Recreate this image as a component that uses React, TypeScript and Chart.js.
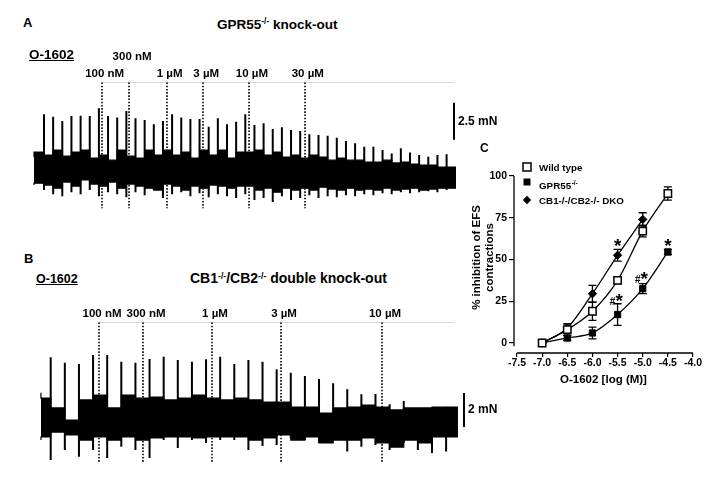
import React, { useEffect, useRef } from 'react';
import { Chart, registerables } from 'chart.js';

Chart.register(...registerables);

const FAMILY = 'Liberation Sans';
const CSS_FONT = '"Liberation Sans", Arial, Helvetica, sans-serif';
const font = (size: number) => `bold ${size}px "Liberation Sans", Arial, sans-serif`;

// ---------------- Panel A : GPR55-/- knock-out trace (mN, x = stimulus number) ----------------
const A_SPIKE_TOP = [
  3.76, 3.6, 3.31, 3.65, 3.67, 3.65, 4.17, 3.65, 3.54, 3.99, 3.49, 3.38, 3.09, 3.31, 3.76, 3.54,
  3.44, 3.44, 2.92, 3.49, 3.09, 3.26, 3.76, 3.04, 3.16, 2.77, 2.89, 2.71, 2.64, 2.41, 2.36, 2.32,
  2.18, 1.96, 1.81, 1.57, 1.57, 1.35, 1.12, 1.47, 1.19, 1.01, 0.9, 1.01, 1.06,
];
const A_SPIKE_LOW = [
  -1.35, -1.63, -1.76, -1.49, -1.63, -1.35, -1.76, -1.49, -1.63, -1.83, -1.49, -1.69, -1.35, -1.89,
  -1.63, -1.49, -1.76, -1.56, -1.83, -1.63, -1.76, -1.89, -1.63, -2.02, -1.89, -2.16, -1.76, -2.02,
  -1.89, -1.69, -1.89, -1.76, -1.83, -1.69, -1.76, -1.63, -1.69, -1.56, -1.63, -1.49, -1.56, -1.49,
  -1.42, -1.49, -1.35,
];
// first value: before the first stimulus, then one value after each stimulus
const A_BAND_HIGH = [
  0.88, 1.22, 1.01, 1.35, 0.94, 1.22, 1.35, 0.81, 1.01, 0.67, 1.35, 0.94, 0.81, 1.35, 1.01, 1.35,
  1.01, 1.22, 0.81, 1.35, 1.01, 1.35, 0.81, 1.22, 1.22, 1.35, 1.01, 1.22, 0.88, 1.01, 0.81, 1.01,
  0.88, 0.67, 0.81, 0.67, 0.67, 0.54, 0.54, 0.67, 0.48, 0.54, 0.41, 0.34, 0.34, 0.2,
];
const A_BAND_LOW = [
  -1.01, -0.88, -1.01, -1.22, -0.81, -1.08, -0.67, -0.94, -1.08, -0.81, -1.22, -0.94, -1.08, -1.22,
  -1.35, -0.94, -1.08, -1.35, -1.08, -1.22, -1.01, -1.08, -1.22, -1.08, -1.08, -1.35, -1.22, -1.49,
  -1.22, -1.35, -1.22, -1.35, -1.15, -1.28, -1.35, -1.22, -1.35, -1.28, -1.35, -1.22, -1.35, -1.28,
  -1.22, -1.35, -1.28, -1.22,
];
const A_TRACE_START = -1.09;
const A_TRACE_END = 45.03;
const A_DOSE_AT = [6.3, 9.3, 13.4, 17.4, 22.4, 28.5];
const A_DOSE_LABELS = ['100 nM', '300 nM', '1 \u00B5M', '3 \u00B5M', '10 \u00B5M', '30 \u00B5M'];
const A_DOSE_ROW = [0, 1, 0, 0, 0, 0];

// ---------------- Panel B : CB1-/-/CB2-/- double knock-out trace ----------------
const B_SPIKE_TOP = [
  3.69, 3.37, 3.29, 3.82, 3.82, 3.43, 3.37, 3.59, 3.72, 3.53, 3.43, 3.57, 3.72, 3.29, 3.53, 3.43,
  2.98, 2.78, 2.59, 2.41, 2.16, 1.81, 1.51, 1.53, 0.92, 1.12, 0.71, 0.72, 0.78,
];
const B_SPIKE_LOW = [
  -2.35, -1.76, -2.16, -1.76, -2.24, -1.57, -1.76, -2.24, -1.18, -1.65, -1.18, -1.35, -1.18, -1.18,
  -1.76, -1.53, -1.47, -1.06, -1.18, -1.35, -1.18, -1.86, -1.57, -1.47, -1.76, -1.35, -1.76, -1.94,
  -1.86,
];
const B_BAND_HIGH = [
  1.61, 1.29, 0.71, 0.0, 1.18, 1.47, 0.71, 1.47, 1.29, 1.35, 1.18, 1.29, 1.47, 1.29, 1.18, 1.29,
  1.18, 1.06, 1.06, 0.76, 0.76, 0.41, 0.71, 0.76, 0.88, 0.76, 0.59, 0.71, 0.71, 0.76,
];
const B_BAND_LOW = [
  -1.18, -1.0, -0.71, -0.88, -1.18, -1.0, -1.18, -1.0, -1.18, -1.06, -1.0, -1.0, -1.06, -1.0, -1.0,
  -1.0, -1.18, -1.06, -0.88, -1.18, -1.0, -1.35, -1.18, -1.18, -1.06, -1.35, -1.59, -1.18, -1.35,
  -1.0,
];
const B_TRACE_START = -0.69;
const B_TRACE_END = 28.84;
const B_DOSE_AT = [3.42, 6.54, 11.42, 16.31, 23.46];
const B_DOSE_LABELS = ['100 nM', '300 nM', '1 \u00B5M', '3 \u00B5M', '10 \u00B5M'];
const B_DOSE_ROW = [0, 0, 0, 0, 0];

// ---------------- Panel C : concentration-response ----------------
const C_LOG_DOSE = [-7.0, -6.5, -6.0, -5.5, -5.0, -4.5];
const WT_MEAN = [0, 8, 19, 37.5, 67, 89.5];
const WT_SEM = [0, 3.5, 5.5, 2, 3.5, 4];
const GPR_MEAN = [0, 3, 6, 17, 32.5, 54.5];
const GPR_SEM = [0, 1.5, 3.5, 6.5, 3, 1.5];
const DKO_MEAN = [0, 9, 29.5, 52.5, 74];
const DKO_SEM = [0, 2.5, 5, 3.5, 4];
const C_X_TICKS = [-7.5, -7.0, -6.5, -6.0, -5.5, -5.0, -4.5, -4.0];
const C_Y_TICKS = [0, 25, 50, 75, 100];
const C_MARKS = [
  { x: -5.5, y: 61, text: '*' },
  { x: -4.5, y: 61, text: '*' },
  { x: -5.0, y: 38, text: '#*' },
  { x: -5.5, y: 25, text: '#*' },
];
const C_LEGEND = [
  { text: 'Wild type', sup: '' },
  { text: 'GPR55', sup: '-/-' },
  { text: 'CB1-/-/CB2-/- DKO', sup: '' },
];
const C_Y_TITLE = ['% inhibition of EFS', 'contractions'];
const C_X_TITLE = 'O-1602 [log (M)]';

type TraceCfg = {
  left: number; top: number; width: number; height: number;
  xMin: number; xMax: number; yMin: number; yMax: number;
  start: number; end: number;
  spikeTop: number[]; spikeLow: number[]; bandHigh: number[]; bandLow: number[];
  doseAt: number[]; doseLabels: string[]; doseRow: number[];
  dotTop: number; dotBottom: number; greyEnd: number;
  bar: { x: number; from: number; len: number; label: string };
};

function makeTraceDecor(cfg: TraceCfg) {
  return {
    id: 'traceDecor',
    afterDatasetsDraw(chart: any) {
      const { ctx } = chart;
      const xs = chart.scales.x;
      const ys = chart.scales.y;
      const yTop = Math.round(ys.getPixelForValue(cfg.dotTop)) + 0.5;
      const yBot = ys.getPixelForValue(cfg.dotBottom);
      ctx.save();
      ctx.strokeStyle = '#d6d6d6';
      ctx.lineWidth = 1;
      ctx.beginPath();
      ctx.moveTo(xs.getPixelForValue(cfg.doseAt[0]), yTop);
      ctx.lineTo(xs.getPixelForValue(cfg.greyEnd), yTop);
      ctx.stroke();
      ctx.strokeStyle = '#000';
      ctx.lineWidth = 1.6;
      ctx.setLineDash([1.6, 1.6]);
      cfg.doseAt.forEach((d) => {
        const x = Math.round(xs.getPixelForValue(d));
        ctx.beginPath();
        ctx.moveTo(x, yTop);
        ctx.lineTo(x, yBot);
        ctx.stroke();
      });
      ctx.setLineDash([]);
      ctx.fillStyle = '#000';
      ctx.font = font(11.5);
      ctx.textAlign = 'center';
      ctx.textBaseline = 'alphabetic';
      cfg.doseAt.forEach((d, i) => {
        const x = xs.getPixelForValue(d);
        ctx.fillText(cfg.doseLabels[i], x + 3, yTop - 6 - cfg.doseRow[i] * 17);
      });
      const bx = Math.round(xs.getPixelForValue(cfg.bar.x));
      const b0 = ys.getPixelForValue(cfg.bar.from);
      const b1 = ys.getPixelForValue(cfg.bar.from + cfg.bar.len);
      ctx.lineWidth = 2;
      ctx.beginPath();
      ctx.moveTo(bx, b0);
      ctx.lineTo(bx, b1);
      ctx.stroke();
      ctx.textAlign = 'left';
      ctx.textBaseline = 'middle';
      ctx.font = font(12);
      ctx.fillText(cfg.bar.label, bx + 4, (b0 + b1) / 2);
      ctx.restore();
    },
  };
}

function TraceChart({ cfg }: { cfg: TraceCfg }) {
  const ref = useRef<HTMLCanvasElement>(null);
  useEffect(() => {
    const band = (vals: number[]) => {
      const pts = vals.map((v, i) => ({ x: i === 0 ? cfg.start : i - 1, y: v }));
      pts.push({ x: cfg.end, y: vals[vals.length - 1] });
      return pts;
    };
    const spikes: any[] = [];
    cfg.spikeTop.forEach((t, i) => {
      spikes.push({ x: i, y: cfg.spikeLow[i] }, { x: i, y: t }, { x: i, y: null });
    });
    const chart = new Chart(ref.current as HTMLCanvasElement, {
      type: 'line',
      data: {
        datasets: [
          {
            data: band(cfg.bandHigh), borderColor: '#000', borderWidth: 1.2,
            pointRadius: 0, stepped: 'after', fill: false,
          },
          {
            data: band(cfg.bandLow), borderColor: '#000', borderWidth: 1.2,
            pointRadius: 0, stepped: 'after', fill: '-1', backgroundColor: '#000',
          },
          {
            data: spikes, borderColor: '#000', borderWidth: 2, pointRadius: 0, spanGaps: false,
            fill: false, borderCapStyle: 'butt',
          },
        ] as any,
      },
      options: {
        responsive: false, animation: false, devicePixelRatio: 1, events: [],
        layout: { padding: 0 },
        plugins: { legend: { display: false }, tooltip: { enabled: false } },
        scales: {
          x: { type: 'linear', min: cfg.xMin, max: cfg.xMax, display: false, offset: false },
          y: { type: 'linear', min: cfg.yMin, max: cfg.yMax, display: false },
        },
      } as any,
      plugins: [makeTraceDecor(cfg)],
    });
    return () => chart.destroy();
  }, []);
  return (
    <canvas
      ref={ref}
      width={cfg.width}
      height={cfg.height}
      style={{ position: 'absolute', left: cfg.left, top: cfg.top, width: cfg.width, height: cfg.height, display: 'block' }}
    />
  );
}

const C_SERIES = [
  { mean: WT_MEAN, sem: WT_SEM },
  { mean: GPR_MEAN, sem: GPR_SEM },
  { mean: DKO_MEAN, sem: DKO_SEM },
];

const STAR_SIZE = 19;
function drawStar(ctx: any, x: number, y: number) {
  ctx.font = font(STAR_SIZE);
  ctx.textAlign = 'center';
  ctx.textBaseline = 'alphabetic';
  ctx.fillText('*', x, y + 0.57 * STAR_SIZE);
}
function drawHash(ctx: any, x: number, y: number) {
  ctx.font = font(10);
  ctx.textAlign = 'center';
  ctx.textBaseline = 'alphabetic';
  ctx.fillText('#', x, y + 0.35 * 10);
}

const cDecor = {
  id: 'cDecor',
  beforeDatasetsDraw(chart: any) {
    const { ctx } = chart;
    const xs = chart.scales.x;
    const ys = chart.scales.y;
    ctx.save();
    ctx.strokeStyle = '#000';
    ctx.lineWidth = 1.3;
    C_SERIES.forEach((s) => {
      s.mean.forEach((m, i) => {
        const e = s.sem[i];
        if (!e) return;
        const x = xs.getPixelForValue(C_LOG_DOSE[i]);
        const y0 = ys.getPixelForValue(m - e);
        const y1 = ys.getPixelForValue(m + e);
        ctx.beginPath();
        ctx.moveTo(x, y0); ctx.lineTo(x, y1);
        ctx.moveTo(x - 4, y0); ctx.lineTo(x + 4, y0);
        ctx.moveTo(x - 4, y1); ctx.lineTo(x + 4, y1);
        ctx.stroke();
      });
    });
    ctx.restore();
  },
  afterDatasetsDraw(chart: any) {
    const { ctx } = chart;
    const xs = chart.scales.x;
    const ys = chart.scales.y;
    ctx.save();
    ctx.fillStyle = '#000';
    C_MARKS.forEach((mk) => {
      const x = xs.getPixelForValue(mk.x);
      const y = ys.getPixelForValue(mk.y);
      if (mk.text === '*') drawStar(ctx, x, y);
      else {
        drawHash(ctx, x - 5, y);
        drawStar(ctx, x + 1.5, y - 5.5);
      }
    });
    ctx.restore();
  },
  afterDraw(chart: any) {
    const { ctx, chartArea } = chart;
    const xs = chart.scales.x;
    const ys = chart.scales.y;
    ctx.save();
    ctx.strokeStyle = '#000';
    ctx.lineWidth = 1.3;
    ctx.beginPath();
    ctx.moveTo(chartArea.left, ys.getPixelForValue(100));
    ctx.lineTo(chartArea.left, ys.getPixelForValue(-2));
    ctx.moveTo(xs.getPixelForValue(C_X_TICKS[0]), chartArea.bottom);
    ctx.lineTo(xs.getPixelForValue(C_X_TICKS[C_X_TICKS.length - 1]), chartArea.bottom);
    ctx.stroke();
    const yc = (ys.getPixelForValue(100) + ys.getPixelForValue(0)) / 2 - 2;
    ctx.fillStyle = '#000';
    ctx.font = font(11.5);
    ctx.textAlign = 'center';
    ctx.textBaseline = 'middle';
    C_Y_TITLE.forEach((t, i) => {
      ctx.save();
      ctx.translate(chartArea.left - 37.5 + i * 13, yc);
      ctx.rotate(-Math.PI / 2);
      ctx.fillText(t, 0, 0);
      ctx.restore();
    });
    const mx = chartArea.left + 13;
    const tx = chartArea.left + 25;
    const top = ys.getPixelForValue(100);
    const markerY = [top - 9, top + 6, top + 24];
    const textY = [top - 5.5, top + 13, top + 28];
    ctx.lineWidth = 1.5;
    ctx.strokeStyle = '#000';
    ctx.fillStyle = '#fff';
    ctx.fillRect(mx - 4, markerY[0] - 4, 8, 8);
    ctx.strokeRect(mx - 4, markerY[0] - 4, 8, 8);
    ctx.fillStyle = '#000';
    ctx.fillRect(mx - 3.5, markerY[1] - 3.5, 7, 7);
    ctx.beginPath();
    ctx.moveTo(mx, markerY[2] - 4.2);
    ctx.lineTo(mx + 4.2, markerY[2]);
    ctx.lineTo(mx, markerY[2] + 4.2);
    ctx.lineTo(mx - 4.2, markerY[2]);
    ctx.closePath();
    ctx.fill();
    ctx.textAlign = 'left';
    ctx.textBaseline = 'alphabetic';
    C_LEGEND.forEach((item, i) => {
      ctx.font = font(9.8);
      ctx.fillText(item.text, tx, textY[i]);
      if (item.sup) {
        const w = ctx.measureText(item.text).width;
        ctx.font = font(6.5);
        ctx.fillText(item.sup, tx + w + 0.5, textY[i] - 4.5);
      }
    });
    ctx.restore();
  },
};

function DoseResponseChart() {
  const ref = useRef<HTMLCanvasElement>(null);
  useEffect(() => {
    const pts = (mean: number[]) => mean.map((m, i) => ({ x: C_LOG_DOSE[i], y: m }));
    const tickFont = { family: FAMILY, size: 10.5, weight: 'bold' };
    const chart = new Chart(ref.current as HTMLCanvasElement, {
      type: 'line',
      data: {
        datasets: [
          {
            label: 'Wild type', data: pts(WT_MEAN), borderColor: '#000', borderWidth: 1.3,
            backgroundColor: '#fff', pointStyle: 'rect', pointRadius: 5.2, pointBorderWidth: 1.5,
            pointBorderColor: '#000', pointBackgroundColor: '#fff', cubicInterpolationMode: 'monotone', fill: false,
          },
          {
            label: 'GPR55-/-', data: pts(GPR_MEAN), borderColor: '#000', borderWidth: 1.3,
            backgroundColor: '#000', pointStyle: 'rect', pointRadius: 4.4, pointBorderWidth: 1,
            pointBorderColor: '#000', pointBackgroundColor: '#000', cubicInterpolationMode: 'monotone', fill: false,
          },
          {
            label: 'CB1-/-/CB2-/- DKO', data: pts(DKO_MEAN), borderColor: '#000', borderWidth: 1.3,
            backgroundColor: '#000', pointStyle: 'rectRot', pointRadius: 4.2, pointBorderWidth: 1,
            pointBorderColor: '#000', pointBackgroundColor: '#000', cubicInterpolationMode: 'monotone', fill: false,
          },
        ] as any,
      },
      options: {
        responsive: false, animation: false, devicePixelRatio: 1, events: [],
        layout: { padding: { left: 0, right: 16, top: 36, bottom: 0 } },
        plugins: { legend: { display: false }, tooltip: { enabled: false } },
        scales: {
          x: {
            type: 'linear', min: -7.56, max: -4.0, offset: false,
            afterBuildTicks: (s: any) => { s.ticks = C_X_TICKS.map((v) => ({ value: v })); },
            afterFit: (s: any) => { s.height = 37; },
            grid: { display: true, drawOnChartArea: false, drawTicks: true, tickLength: 4, color: '#000', lineWidth: 1.2 },
            border: { display: false },
            ticks: {
              color: '#000', font: tickFont, padding: 0, maxRotation: 0, autoSkip: false,
              callback: (v: any) => Number(v).toFixed(1),
            },
            title: {
              display: true, text: C_X_TITLE, color: '#000',
              font: { family: FAMILY, size: 11.5, weight: 'bold' }, padding: { top: 0, bottom: 3 },
            },
          },
          y: {
            type: 'linear', min: -6, max: 100,
            afterBuildTicks: (s: any) => { s.ticks = C_Y_TICKS.map((v) => ({ value: v })); },
            afterFit: (s: any) => { s.width = 44; },
            grid: { display: true, drawOnChartArea: false, drawTicks: true, tickLength: 5, color: '#000', lineWidth: 1.2 },
            border: { display: false },
            ticks: { color: '#000', font: tickFont, padding: 2, autoSkip: false },
          },
        },
      } as any,
      plugins: [cDecor],
    });
    return () => chart.destroy();
  }, []);
  return (
    <canvas
      ref={ref}
      width={239}
      height={250}
      style={{ position: 'absolute', left: 470, top: 140, width: 239, height: 250, display: 'block' }}
    />
  );
}

function Txt({ x, baseline, size, underline, children }: any) {
  return (
    <div
      style={{
        position: 'absolute', left: x, top: baseline - 0.8465 * size, fontSize: size,
        lineHeight: `${size}px`, fontWeight: 'bold', whiteSpace: 'nowrap', fontFamily: CSS_FONT,
        textDecoration: underline ? 'underline' : 'none', color: '#000',
      }}
    >
      {children}
    </div>
  );
}
function Sup({ children }: any) {
  return (
    <span style={{ fontSize: '0.62em', position: 'relative', top: '-0.55em', lineHeight: 1 }}>{children}</span>
  );
}

const TRACE_A: TraceCfg = {
  left: 30, top: 44, width: 480, height: 178,
  xMin: -1.53, xMax: 50.93, yMin: -3.5, yMax: 8.5,
  start: A_TRACE_START, end: A_TRACE_END,
  spikeTop: A_SPIKE_TOP, spikeLow: A_SPIKE_LOW, bandHigh: A_BAND_HIGH, bandLow: A_BAND_LOW,
  doseAt: A_DOSE_AT, doseLabels: A_DOSE_LABELS, doseRow: A_DOSE_ROW,
  dotTop: 5.95, dotBottom: -2.57, greyEnd: 44.9,
  bar: { x: 44.8, from: 2.04, len: 2.5, label: '2.5 mN' },
};

const TRACE_B: TraceCfg = {
  left: 35, top: 301, width: 470, height: 170,
  xMin: -1.112, xMax: 32.17, yMin: -3, yMax: 7,
  start: B_TRACE_START, end: B_TRACE_END,
  spikeTop: B_SPIKE_TOP, spikeLow: B_SPIKE_LOW, bandHigh: B_BAND_HIGH, bandLow: B_BAND_LOW,
  doseAt: B_DOSE_AT, doseLabels: B_DOSE_LABELS, doseRow: B_DOSE_ROW,
  dotTop: 5.76, dotBottom: -2.53, greyEnd: 28.6,
  bar: { x: 29.27, from: -0.41, len: 2, label: '2 mN' },
};

export default function App() {
  return (
    <div
      style={{
        position: 'absolute', left: 0, top: 0, width: 709, height: 481, background: '#fff',
        overflow: 'hidden', fontFamily: CSS_FONT,
      }}
    >
      <TraceChart cfg={TRACE_A} />
      <TraceChart cfg={TRACE_B} />
      <DoseResponseChart />
      <Txt x={23} baseline={27} size={13}>A</Txt>
      <Txt x={217} baseline={29.3} size={13.5}>
        GPR55<Sup>-/-</Sup> knock-out
      </Txt>
      <Txt x={29} baseline={59.3} size={13.5} underline>O-1602</Txt>
      <Txt x={24} baseline={263.3} size={13}>B</Txt>
      <Txt x={36} baseline={283.3} size={12.5} underline>O-1602</Txt>
      <Txt x={190} baseline={283.3} size={14}>
        CB1<Sup>-/-</Sup>/CB2<Sup>-/-</Sup> double knock-out
      </Txt>
      <Txt x={480} baseline={151.7} size={12}>C</Txt>
    </div>
  );
}
